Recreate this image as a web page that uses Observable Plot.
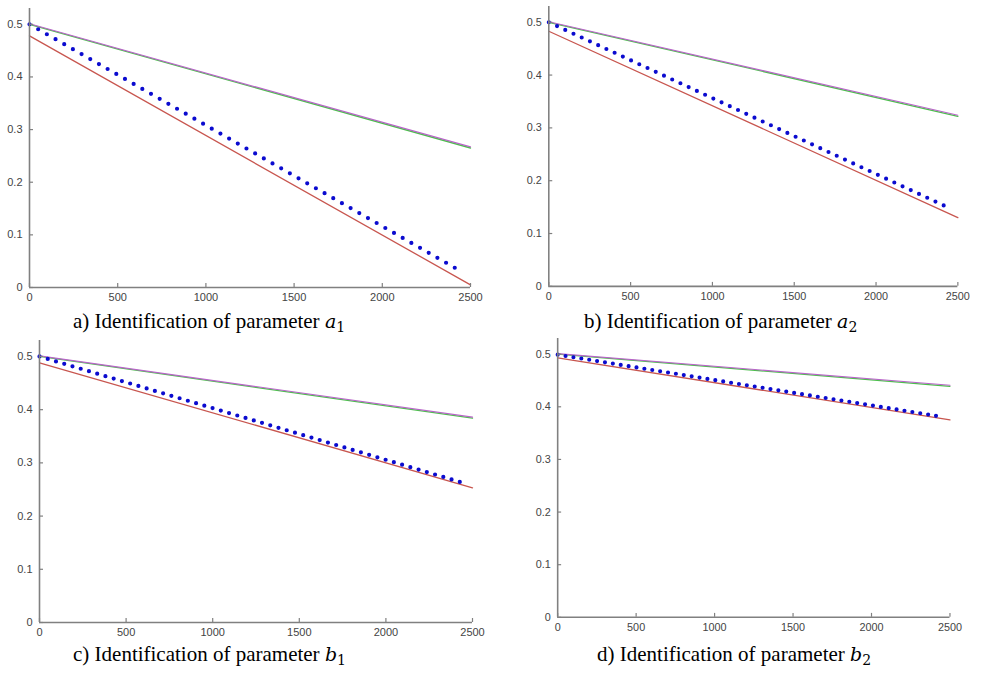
<!DOCTYPE html>
<html><head><meta charset="utf-8">
<script src="https://cdn.jsdelivr.net/npm/d3@7"></script>
<script src="https://cdn.jsdelivr.net/npm/@observablehq/plot@0.6"></script>
<style>
html,body{margin:0;padding:0;background:#fff;}
body{width:983px;height:674px;position:relative;overflow:hidden;}
.panel{position:absolute;}
.cap{position:absolute;font-family:"Liberation Serif","Times New Roman",serif;font-size:21px;line-height:21px;color:#000;white-space:nowrap;}
.cap i{font-family:"DejaVu Serif","Liberation Serif",serif;font-style:italic;font-size:19px;}
.cap sub{font-size:14px;vertical-align:-4px;font-family:"DejaVu Serif","Liberation Serif",serif;}
</style></head><body>
<script>
// ---- data ----
const xTicks = [0, 500, 1000, 1500, 2000, 2500];
const yTicks = [0, 0.1, 0.2, 0.3, 0.4, 0.5];
const xDomain = [0, 2500];
const yDomain = [0, 0.53];
const lineX = [0, 2500];
const blueX = [0, 2450];

const greenA = [0.5, 0.265], purpleA = [0.501, 0.267], redA = [0.478, 0.005], blueA = [0.5, 0.03];
const greenB = [0.5, 0.322], purpleB = [0.501, 0.324], redB = [0.483, 0.13], blueB = [0.5, 0.148];
const greenC = [0.5, 0.384], purpleC = [0.501, 0.386], redC = [0.488, 0.253], blueC = [0.5, 0.262];
const greenD = [0.5, 0.439], purpleD = [0.501, 0.441], redD = [0.493, 0.375], blueD = [0.499, 0.381];

const captionLetters = ["a", "b", "c", "d"];
const captionParams = [["a", "1"], ["a", "2"], ["b", "1"], ["b", "2"]];

// ---- layout ----
const panels = [
  {g: greenA, p: purpleA, r: redA, b: blueA, left: 0,   top: 0,   width: 490, height: 310, ml: 29, mr: 20, mt: 8,  mb: 23, dash: "0 10",  capL: 73,  capT: 311},
  {g: greenB, p: purpleB, r: redB, b: blueB, left: 500, top: 0,   width: 490, height: 313, ml: 49, mr: 26, mt: 6,  mb: 23, dash: "0 9.2", capL: 584, capT: 311},
  {g: greenC, p: purpleC, r: redC, b: blueC, left: 0,   top: 330, width: 490, height: 315, ml: 39, mr: 18, mt: 10, mb: 23, dash: "0 8.6", capL: 73,  capT: 644},
  {g: greenD, p: purpleD, r: redD, b: blueD, left: 500, top: 330, width: 490, height: 314, ml: 58, mr: 34, mt: 8,  mb: 23, dash: "0 8.1", capL: 597, capT: 644}
];

const axisColor = "#808080";
const toRows = (xs, ys) => xs.map((x, i) => ({x, y: ys[i]}));

panels.forEach((P, k) => {
  const chart = Plot.plot({
    width: P.width, height: P.height,
    marginLeft: P.ml, marginRight: P.mr, marginTop: P.mt, marginBottom: P.mb,
    x: {domain: xDomain, label: null},
    y: {domain: yDomain, label: null},
    style: {fontFamily: "'Liberation Sans Narrow','Liberation Sans',Arial,sans-serif", fontSize: "11px", color: "#444", background: "transparent", overflow: "visible"},
    marks: [
      Plot.line(toRows(lineX, P.g), {x: "x", y: "y", stroke: "#4cbf4c", strokeWidth: 1.3}),
      Plot.line(toRows(lineX, P.p), {x: "x", y: "y", stroke: "#b865c8", strokeWidth: 1.2}),
      Plot.line(toRows(lineX, P.r), {x: "x", y: "y", stroke: "#c8564f", strokeWidth: 1.3}),
      Plot.line(toRows(blueX, P.b), {x: "x", y: "y", stroke: "#0b0bcf", strokeWidth: 4.2, strokeLinecap: "round", strokeDasharray: P.dash}),
      Plot.ruleX([0], {stroke: axisColor, strokeWidth: 1.6}),
      Plot.ruleY([0], {stroke: axisColor, strokeWidth: 1.6}),
      Plot.axisX({ticks: xTicks, tickSize: -4, tickPadding: 10, stroke: axisColor, strokeWidth: 1.2, label: null, tickFormat: d => String(d)}),
      Plot.axisY({ticks: yTicks, tickSize: -4, tickPadding: 11, stroke: axisColor, strokeWidth: 1.2, label: null, tickFormat: d => String(d)})
    ]
  });
  const div = document.createElement("div");
  div.className = "panel";
  div.style.left = P.left + "px";
  div.style.top = P.top + "px";
  div.appendChild(chart);
  document.body.appendChild(div);

  const cap = document.createElement("div");
  cap.className = "cap";
  cap.style.left = P.capL + "px";
  cap.style.top = P.capT + "px";
  cap.innerHTML = captionLetters[k] + ") Identification of parameter <i>" + captionParams[k][0] + "</i><sub>" + captionParams[k][1] + "</sub>";
  document.body.appendChild(cap);
});
</script>
</body></html>
